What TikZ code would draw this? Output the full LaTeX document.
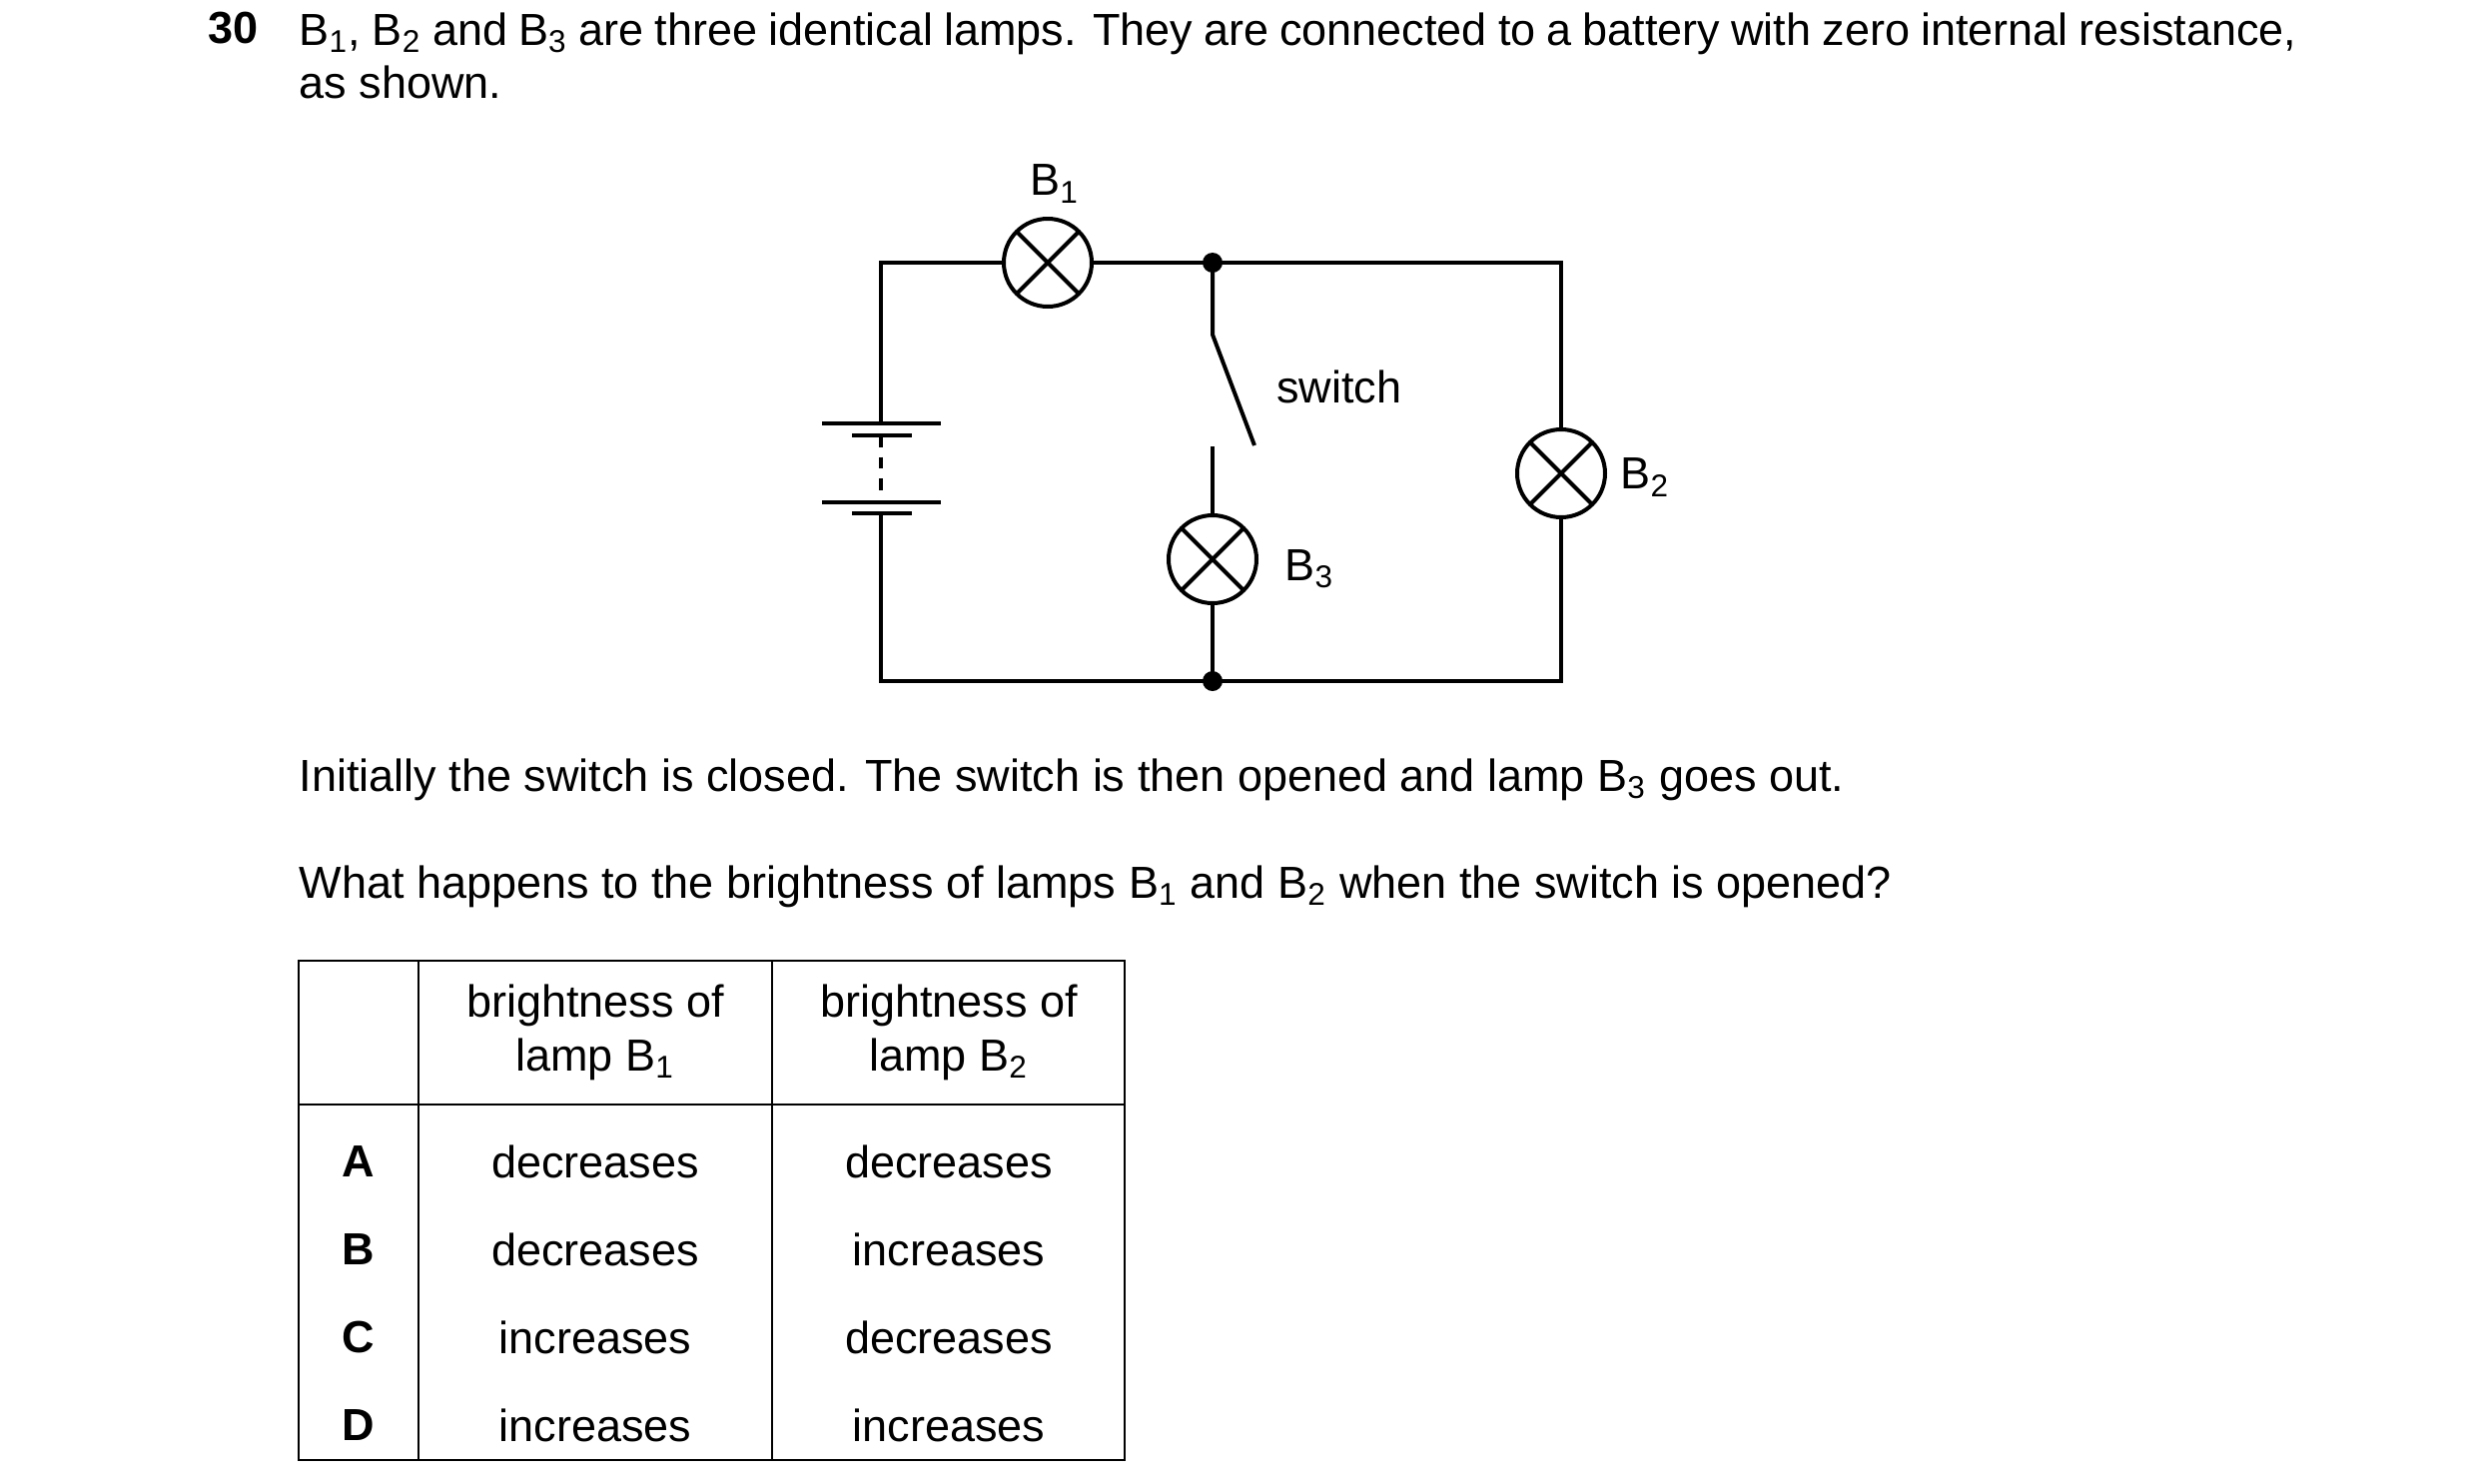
\documentclass[tikz,border=0pt]{standalone}
\usepackage{fontspec}
\setmainfont{Liberation Sans}
\usetikzlibrary{positioning}
\tikzset{
  wire/.style={line width=1.2pt},
  lamp/.style={circle, draw, line width=1.2pt, minimum size=26.4pt, inner sep=0pt,
    path picture={\draw[line width=1.2pt] (path picture bounding box.north west)--(path picture bounding box.south east)
      (path picture bounding box.north east)--(path picture bounding box.south west);}},
  txt/.style={anchor=base west, inner sep=0pt, font=\fontsize{13.5}{16}\selectfont},
  cell/.style={inner sep=0pt, font=\fontsize{13.5}{16}\selectfont, align=center}
}
\begin{document}
\begin{tikzpicture}[x=0.3pt,y=-0.3pt]
\useasboundingbox (0,0) rectangle (2480,1486);
% question text
\node[txt, anchor=base east, font=\fontsize{13.5}{16}\selectfont\bfseries] (num) at (259,43) {30};
\node[txt, anchor=north west] (q) at (299,12) {\parbox[t]{600pt}{\baselineskip=16pt B\textsubscript{1}, B\textsubscript{2} and B\textsubscript{3} are three identical lamps. They are connected to a battery with zero internal resistance, as shown.}};
% lamps
\node[lamp] (b1) at (1049,263) {};
\node[lamp] (b3) at (1214,560) {};
\node[lamp] (b2) at (1563,474) {};
\coordinate (tl) at (882,263);
\coordinate (bl) at (882,682);
\coordinate (tj) at (1214,263);
\coordinate (bj) at (1214,682);
\coordinate (tr) at (1563,263);
\coordinate (br) at (1563,682);
% wires
\draw[wire] (b1) -- (tl) -- (882,424);
\draw[wire] (882,514) -- (bl) -- (bj) -- (br) -- (b2) -- (tr) -- (tj) -- (b1);
\draw[wire] (tj) -- (1214,335) -- (1256,446);
\draw[wire] (1214,447) -- (b3) -- (bj);
% battery
\draw[wire] (823,424) -- (942,424) (853,436) -- (913,436);
\draw[wire] (823,503) -- (942,503) (853,514) -- (913,514);
\draw[wire, dash pattern=on 3.5pt off 3pt] (882,436) -- (882,503);
\fill (tj) circle (10);
\fill (bj) circle (10);
% labels
\node[cell] (lb1) at (1056,184) {B\textsubscript{1}};
\node[cell] (lsw) at (1341,387) {switch};
\node[cell, anchor=west] (lb3) at (1286,570) {B\textsubscript{3}};
\node[cell, anchor=west] (lb2) at (1622,478) {B\textsubscript{2}};
% lower text
\node[txt] (t1) at (299,792) {Initially the switch is closed. The switch is then opened and lamp B\textsubscript{3} goes out.};
\node[txt] (t2) at (299,899) {What happens to the brightness of lamps B\textsubscript{1} and B\textsubscript{2} when the switch is opened?};
% table
\draw[line width=0.8pt] (299,962) rectangle (1126,1462);
\draw[line width=0.8pt] (299,1106) -- (1126,1106);
\draw[line width=0.8pt] (419,962) -- (419,1462) (773,962) -- (773,1462);
\node[cell] (h1) at (596,1034) {brightness of\\lamp B\textsubscript{1}};
\node[cell] (h2) at (950,1034) {brightness of\\lamp B\textsubscript{2}};
\foreach \l/\a/\b [count=\i] in {A/decreases/decreases, B/decreases/increases, C/increases/decreases, D/increases/increases}{
  \node[cell, font=\fontsize{13.5}{16}\selectfont\bfseries] (r\i) at (359,1075+88*\i) {\l};
  \node[cell] (ra\i) at (596,1075+88*\i) {\a};
  \node[cell] (rb\i) at (950,1075+88*\i) {\b};
}
\end{tikzpicture}
\end{document}
